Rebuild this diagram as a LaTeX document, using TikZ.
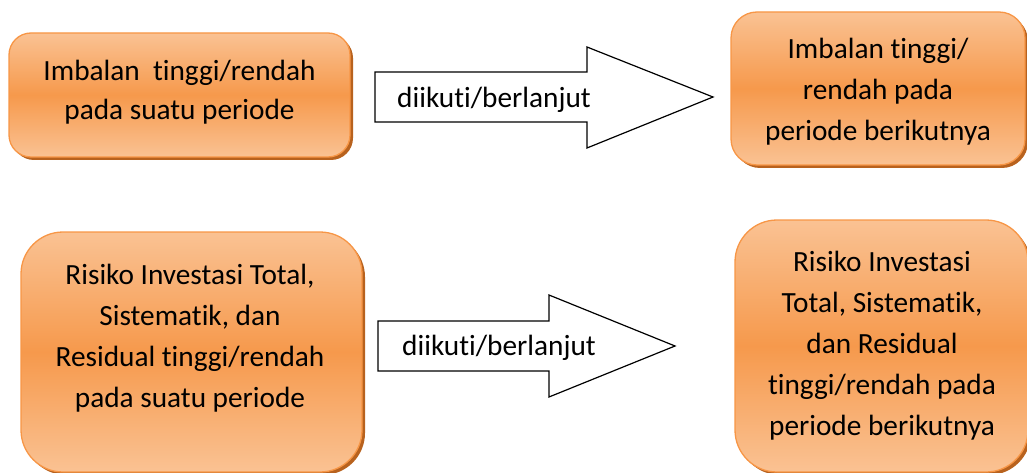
\documentclass[tikz,border=0pt]{standalone}
\usepackage{fontspec}
\setmainfont[Ligatures=NoCommon]{Carlito}
\usetikzlibrary{shadows}
\definecolor{boxtop}{HTML}{FAC293}
\definecolor{boxmid}{HTML}{F6994C}
\definecolor{boxline}{HTML}{F79646}
\definecolor{shadowc}{HTML}{B8621E}
\tikzset{
  obox/.style={rectangle, draw=boxline, line width=1.3pt, top color=boxtop, bottom color=boxtop, middle color=boxmid,
    drop shadow={shadow xshift=3pt, shadow yshift=-3pt, fill=shadowc, opacity=1}, inner sep=0pt},
  txt/.style={align=center, inner sep=0pt, font=\fontsize{29.3}{41}\selectfont},
  blockarrow/.style={draw=black, line width=1.2pt, fill=white, line join=miter},
}
\begin{document}
\begin{tikzpicture}[x=1pt,y=-1pt]
\useasboundingbox (0,0) rectangle (1027,473);
% boxes
\node[obox, rounded corners=22pt, minimum width=341pt, minimum height=124pt] (b1) at (179.5,95) {};
\node[obox, rounded corners=26pt, minimum width=294pt, minimum height=153pt] (b2) at (878,88.5) {};
\node[obox, rounded corners=42pt, minimum width=341pt, minimum height=240pt] (b3) at (191.5,352) {};
\node[obox, rounded corners=42pt, minimum width=293pt, minimum height=252pt] (b4) at (881.5,346) {};
% texts
\node[txt, font=\fontsize{29.3}{38.5}\selectfont] (t1) at (179.5,92) {Imbalan\ \ tinggi/rendah\\pada suatu periode};
\node[txt] (t2) at (878,91.5) {Imbalan tinggi/\\rendah pada\\periode berikutnya};
\node[txt] (t3) at (190,338) {Risiko Investasi Total,\\Sistematik, dan\\Residual tinggi/rendah\\pada suatu periode};
\node[txt] (t4) at (882,345.5) {Risiko Investasi\\Total, Sistematik,\\dan Residual\\tinggi/rendah pada\\periode berikutnya};
% arrows
\coordinate (a1t) at (713,97);
\draw[blockarrow] (375,72) -- (587,72) -- (587,47) -- (a1t) -- (587,148) -- (587,122) -- (375,122) -- cycle;
\node[txt, anchor=base west] (l1) at (397,108) {diikuti/berlanjut};
\coordinate (a2t) at (675,346);
\draw[blockarrow] (378,321) -- (549,321) -- (549,295) -- (a2t) -- (549,397) -- (549,371) -- (378,371) -- cycle;
\node[txt, anchor=base west] (l2) at (402,355) {diikuti/berlanjut};
\end{tikzpicture}
\end{document}
